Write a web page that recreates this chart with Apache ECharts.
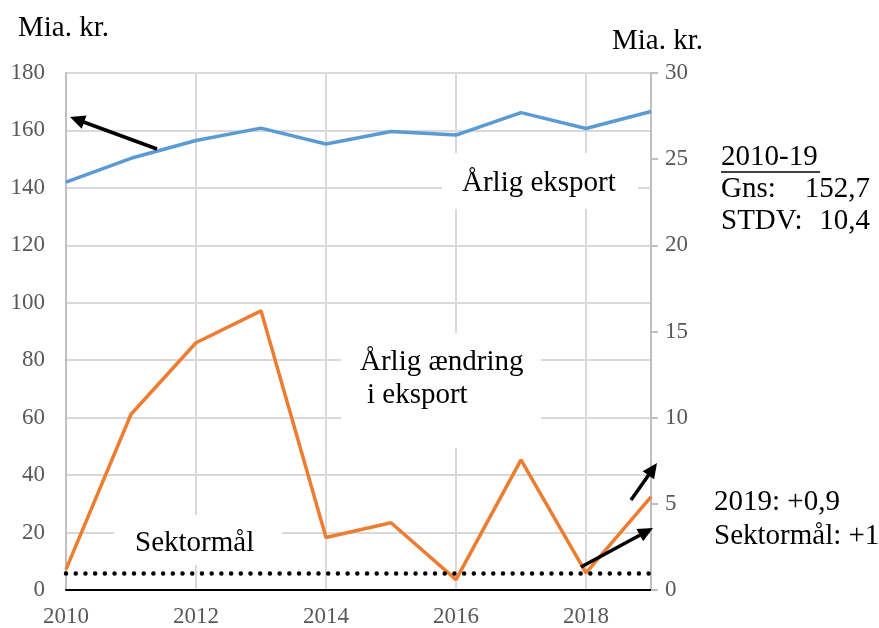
<!DOCTYPE html>
<html><head><meta charset="utf-8">
<script src="https://cdn.jsdelivr.net/npm/echarts@6/dist/echarts.min.js"></script>
<style>html,body{margin:0;padding:0;background:#fff}#c{width:879px;height:628px}</style>
</head><body><div id="c"></div>
<script>
const years = ['2010','2011','2012','2013','2014','2015','2016','2017','2018','2019'];
const aarligEksport = [142.0, 150.3, 156.5, 160.8, 155.3, 159.6, 158.4, 166.2, 160.7, 166.6];
const aarligAendring = [1.2, 10.2, 14.35, 16.2, 3.05, 3.9, 0.6, 7.55, 1.0, 5.4];
const sektormaal = 1;
const leftTicks = {min: 0, max: 180, interval: 20};
const rightTicks = {min: 0, max: 30, interval: 5};

const FONT = '"Liberation Serif", "Times New Roman", serif';
const chart = echarts.init(document.getElementById('c'), null, {renderer: 'canvas'});

function arrow(tail, tip) {
  const dx = tip[0]-tail[0], dy = tip[1]-tail[1];
  const len = Math.hypot(dx, dy);
  const ux = dx/len, uy = dy/len, nx = -uy, ny = ux;
  const L = 15, W = 7;
  const bx = tip[0]-ux*L, by = tip[1]-uy*L;
  return [
    {type:'line', z:10, shape:{x1:tail[0], y1:tail[1], x2:bx+ux*2, y2:by+uy*2}, style:{stroke:'#000', lineWidth:3.5}},
    {type:'polygon', z:10, shape:{points:[[tip[0],tip[1]],[bx+nx*W,by+ny*W],[bx-nx*W,by-ny*W]]}, style:{fill:'#000'}}
  ];
}
function txt(x, y, s, opts) {
  return Object.assign({type:'text', z:10, x:x, y:y, style:Object.assign({text:s, font:'29px ' + FONT, fill:'#000', textVerticalAlign:'middle'}, opts||{})});
}
function box(x, y, w, h) {
  return {type:'rect', z:1, shape:{x:x, y:y, width:w, height:h}, style:{fill:'#fff'}};
}

const graphics = [
  box(442, 153, 196, 56),
  box(341, 333, 200, 115),
  box(114, 515, 168, 50),
  txt(18, 28, 'Mia. kr.'),
  txt(612, 41, 'Mia. kr.'),
  txt(462, 183, 'Årlig eksport'),
  txt(360, 362, 'Årlig ændring'),
  txt(367, 395, 'i eksport'),
  txt(135, 543, 'Sektormål'),
  txt(721, 157, '2010-19'),
  {type:'line', z:10, shape:{x1:721, y1:172, x2:820, y2:172}, style:{stroke:'#000', lineWidth:1.5}},
  txt(721, 189, 'Gns:'),
  txt(870, 189, '152,7', {textAlign:'right'}),
  txt(721, 221, 'STDV:'),
  txt(870, 221, '10,4', {textAlign:'right'}),
  txt(714, 502, '2019: +0,9'),
  txt(714, 536, 'Sektormål: +1'),
  ...arrow([157,149],[70,117]),
  ...arrow([631,500],[657,463]),
  ...arrow([581,567],[653,528])
];

chart.setOption({
  animation: false,
  backgroundColor: '#fff',
  grid: {left: 66, right: 228, top: 73, bottom: 37, containLabel: false},
  xAxis: [{
    type: 'category', data: years, boundaryGap: false, position: 'bottom',
    axisLine: {show: true, lineStyle: {color: '#bfbfbf', width: 2}},
    axisTick: {show: false},
    axisLabel: {interval: 1, color: '#595959', fontFamily: FONT, fontSize: 23, margin: 15},
    splitLine: {show: true, interval: 1, lineStyle: {color: '#d9d9d9', width: 2}}
  }, {
    type: 'category', data: years, boundaryGap: false, position: 'top',
    axisLine: {show: true, lineStyle: {color: '#000', width: 2}},
    axisTick: {show: false}, axisLabel: {show: false}, splitLine: {show: false}
  }],
  yAxis: [{
    type: 'value', min: leftTicks.min, max: leftTicks.max, interval: leftTicks.interval, position: 'left',
    axisLine: {show: true, lineStyle: {color: '#bfbfbf', width: 2}},
    axisTick: {show: false},
    axisLabel: {color: '#595959', fontFamily: FONT, fontSize: 23, margin: 21},
    splitLine: {show: true, lineStyle: {color: '#d9d9d9', width: 2}}
  }, {
    type: 'value', min: rightTicks.min, max: rightTicks.max, interval: rightTicks.interval, position: 'right',
    axisLine: {show: true, lineStyle: {color: '#bfbfbf', width: 2}},
    axisTick: {show: true, length: 7, lineStyle: {color: '#bfbfbf', width: 2}},
    axisLabel: {color: '#595959', fontFamily: FONT, fontSize: 23, margin: 14},
    splitLine: {show: false}
  }],
  series: [{
    name: 'Årlig eksport', type: 'line', data: aarligEksport, xAxisIndex: 0, yAxisIndex: 0,
    symbol: 'none', lineStyle: {color: '#5B9BD5', width: 3.5}, z: 3
  }, {
    name: 'Årlig ændring i eksport', type: 'line', data: aarligAendring, xAxisIndex: 0, yAxisIndex: 1,
    symbol: 'none', lineStyle: {color: '#ED7D31', width: 3.5}, z: 3,
    markLine: {
      silent: true, symbol: 'none', label: {show: false},
      lineStyle: {color: '#000', width: 4.5, type: [0.01, 9.7], cap: 'round'},
      data: [{yAxis: sektormaal}]
    }
  }],
  graphic: graphics
});
</script></body></html>
